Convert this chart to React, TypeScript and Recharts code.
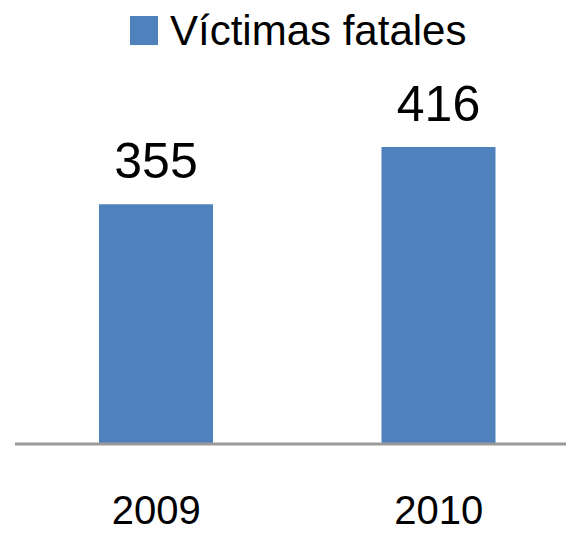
import React from 'react';
import { BarChart, Bar, XAxis, YAxis, Legend, LabelList } from 'recharts';

const years = ['2009', '2010'];
const victimas = [355, 416];
const seriesName = 'Víctimas fatales';

const data = years.map((year, i) => ({ year, value: victimas[i] }));

const FONT = '"Liberation Sans", Arial, sans-serif';
const BLUE = '#4F81BD';

// Legend drawn as a small svg so the square + text sit where they do in the original
const LegendContent = (props: any) => {
  const item = props.payload && props.payload[0];
  return (
    <svg width={566} height={60} style={{ display: 'block' }}>
      <rect x={130} y={16} width={28} height={29} fill={item ? item.color : BLUE} />
      <text x={170} y={45} fontSize={42} fontFamily={FONT} fill="#000">
        {item ? item.value : seriesName}
      </text>
    </svg>
  );
};

const ValueLabel = (props: any) => {
  const { x, y, width, value } = props;
  return (
    <text
      x={x + width / 2}
      y={y - 26}
      textAnchor="middle"
      fontSize={50}
      fontFamily={FONT}
      fill="#000"
    >
      {value}
    </text>
  );
};

const YearTick = (props: any) => {
  const { x, y, payload } = props;
  return (
    <text x={x} y={y + 80} textAnchor="middle" fontSize={40} fontFamily={FONT} fill="#000">
      {payload.value}
    </text>
  );
};

export default function App() {
  return (
    <div style={{ width: 566, height: 534, overflow: 'hidden', background: '#fff' }}>
      <style>{'body{margin:0}'}</style>
      <BarChart
        width={582}
        height={534}
        data={data}
        margin={{ top: 55, right: 2, left: 15, bottom: 30 }}
      >
        <XAxis
          dataKey="year"
          axisLine={{ stroke: '#999', strokeWidth: 3 }}
          tickLine={false}
          tickSize={0}
          tickMargin={0}
          height={60}
          tick={<YearTick />}
        />
        <YAxis hide domain={[100, 450]} allowDataOverflow />
        <Legend
          verticalAlign="top"
          content={<LegendContent />}
          wrapperStyle={{ top: 0, left: 0, width: 566, height: 60 }}
        />
        <Bar dataKey="value" name={seriesName} fill={BLUE} barSize={114} isAnimationActive={false}>
          <LabelList dataKey="value" content={<ValueLabel />} />
        </Bar>
      </BarChart>
    </div>
  );
}
